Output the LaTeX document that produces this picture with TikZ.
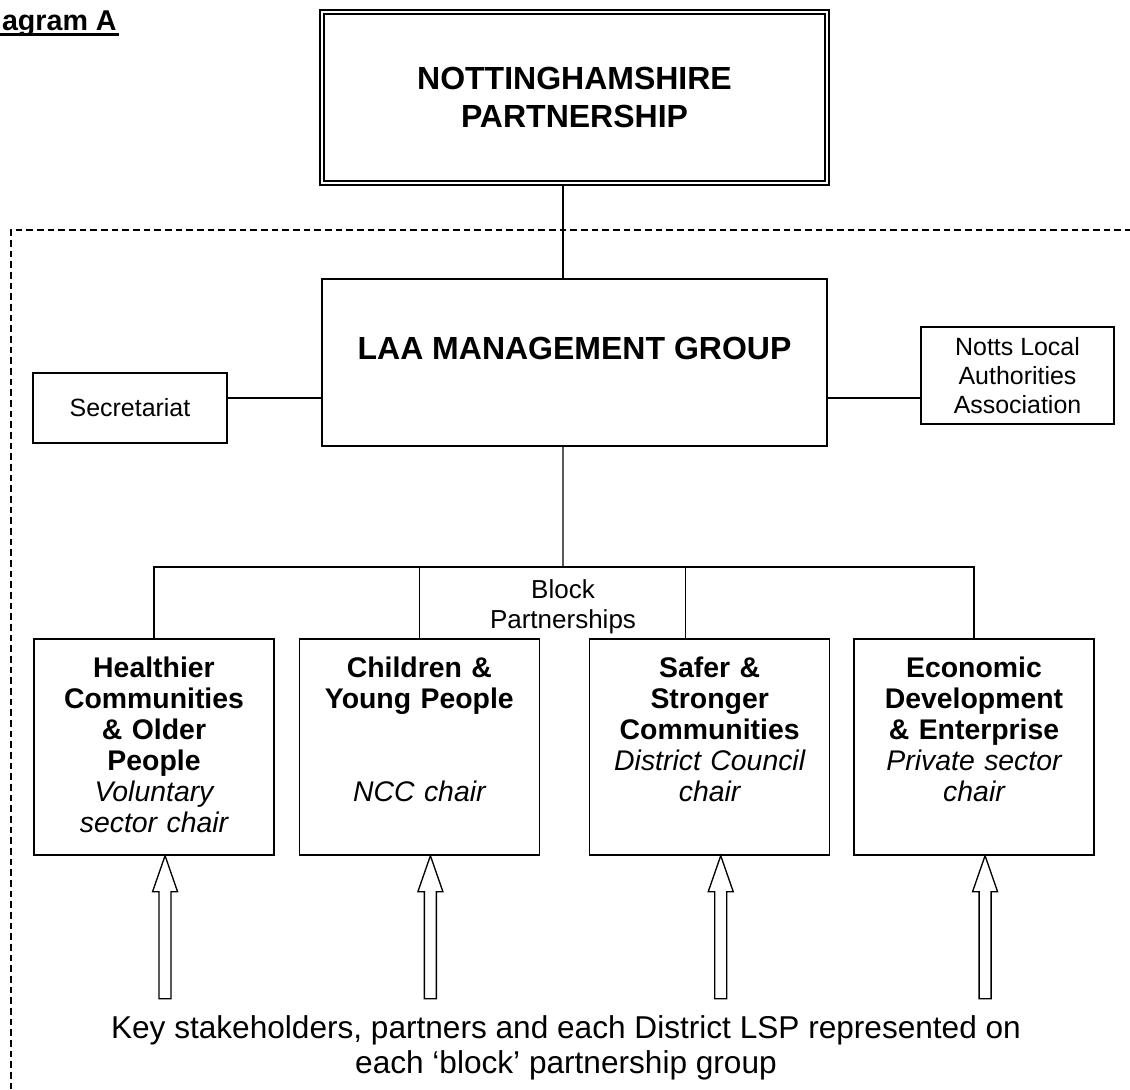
\documentclass[tikz,border=0pt]{standalone}
\usepackage{fontspec}
\setmainfont{Liberation Sans}
\usetikzlibrary{positioning,calc}
\newcommand{\chairby}[1]{{\mdseries\itshape #1}}
\tikzset{
  orgbox/.style={draw,line width=1pt,inner sep=0pt,align=center},
  headbox/.style={orgbox,font=\fontsize{24}{28.5}\selectfont\bfseries},
  sidebox/.style={orgbox,font=\fontsize{18.7}{22}\selectfont},
  blockbox/.style={orgbox,minimum width=180pt,text width=170pt,
    text height=28.9pt,text depth=133.1pt,
    font=\fontsize{21.3}{23.2}\selectfont\bfseries},
  link/.style={line width=1pt},
  scopeline/.style={line width=1pt,dash pattern=on 5pt off 3pt},
  feed/.style={draw,fill=white,line width=1pt},
}
\begin{document}
\begin{tikzpicture}[x=0.75pt,y=-0.75pt]
\useasboundingbox (0,0) rectangle (1130,1089);
\clip (0,0) rectangle (1130,1089);
% title, cut off at the left edge
\node[anchor=base east,inner sep=0pt,font=\fontsize{21.5}{25}\selectfont\bfseries] (ttl) at (117,30) {Diagram A};
\draw[line width=1.8pt] ([yshift=-3.4pt]ttl.base west) -- ([yshift=-3.4pt,xshift=1.5pt]ttl.base east);
% partnership and management group
\node[headbox,line width=2.2pt,minimum width=381.75pt,minimum height=131.25pt] (np) at (574.5,97.5) {NOTTINGHAMSHIRE\\PARTNERSHIP};
\draw[line width=1.5pt] ([shift={(3.8pt,-3.8pt)}]np.north west) rectangle ([shift={(-3.8pt,3.8pt)}]np.south east);
\node[headbox,minimum width=378.75pt,minimum height=125.25pt,text height=18pt,text depth=22.6pt] (laa) at (574.5,362.5) {LAA MANAGEMENT GROUP};
\node[sidebox,minimum width=145.5pt,minimum height=52.5pt] (sec) at (130,408) {Secretariat};
\node[sidebox,minimum width=144.75pt,minimum height=72.75pt] (notts) at (1017.5,375.5) {Notts Local\\Authorities\\Association};
% block partnerships
\node[blockbox] (hc) at (154,747) {Healthier\\Communities\\\& Older\\People\\\chairby{Voluntary\\sector chair}};
\node[blockbox,right=18pt of hc] (cy) {Children \&\\Young People\\~\\~\\\chairby{NCC chair}};
\node[blockbox,right=36.75pt of cy] (sc) {Safer \&\\Stronger\\Communities\\\chairby{District Council\\chair}};
\node[blockbox,right=17.25pt of sc] (ed) {Economic\\Development\\\& Enterprise\\\chairby{Private sector\\chair}};
\coordinate (bar) at (563,567);
\node[font=\fontsize{19.5}{22.5}\selectfont,align=center] (blk) at (563,607) {Block\\Partnerships};
\node[font=\fontsize{23.7}{26.5}\selectfont,align=center] (note) at (566,1048) {Key stakeholders, partners and each District LSP represented on\\each `block' partnership group};
% dashed LAA area
\draw[scopeline] (11,1100) -- (11,230) -- (1140,230);
% links
\draw[link] ([xshift=-8.6pt]np.south) -- ([xshift=-8.6pt]laa.north);
\draw[link] ([yshift=7.5pt]sec.east) coordinate (s1) -- (s1 -| laa.west);
\draw[link] ([yshift=-16.9pt]notts.west) coordinate (n1) -- (n1 -| laa.east);
\draw[link] ([xshift=-8.6pt]laa.south) -- (bar);
\draw[link] (hc.north) |- (bar) -| (ed.north);
\draw[link] (cy.north) -- (cy.north |- bar);
\draw[link] ([xshift=-18pt]sc.north) -- ([xshift=-18pt]sc.north |- bar);
% hollow arrows from the stakeholders
\foreach \b in {hc,cy,sc,ed}
  \draw[feed] ([xshift=8.3pt]\b.south) -- ++(12.5,36) -- ++(-6.5,0) -- ++(0,107)
    -- ++(-12,0) -- ++(0,-107) -- ++(-6.5,0) -- cycle;
\end{tikzpicture}
\end{document}
